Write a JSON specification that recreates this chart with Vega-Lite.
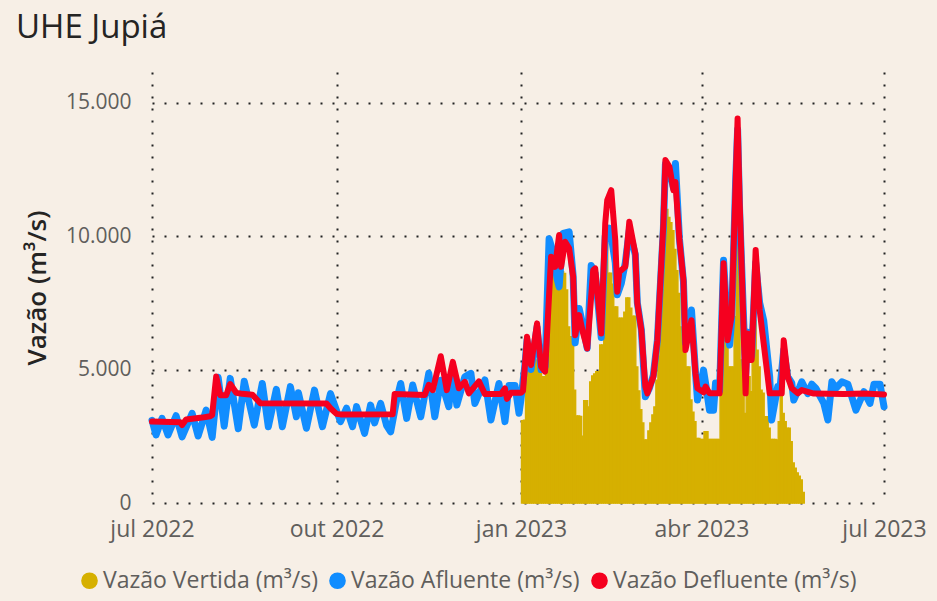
{
  "$schema": "https://vega.github.io/schema/vega-lite/v6.json",
  "width": 732,
  "height": 431,
  "autosize": {"type": "none"},
  "padding": {"left": 152, "top": 72, "right": 53, "bottom": 98},
  "background": "#f7efe6",
  "config": {"view": {"stroke": null}, "font": "Open Sans"},
  "title": {"text": "UHE Jupiá", "anchor": "start", "frame": "group", "dx": -136, "offset": 27, "fontSize": 33, "fontWeight": "normal", "font": "Open Sans", "color": "#252423"},
  "datasets": {
    "vertida": [
      {"d":"2023-01-01","v":3080},{"d":"2023-01-02","v":3100},{"d":"2023-01-03","v":4980},{"d":"2023-01-04","v":5240},{"d":"2023-01-05","v":5490},{"d":"2023-01-06","v":5620},{"d":"2023-01-07","v":5490},{"d":"2023-01-08","v":5360},{"d":"2023-01-09","v":5240},{"d":"2023-01-10","v":5110},
      {"d":"2023-01-11","v":4730},{"d":"2023-01-12","v":4730},{"d":"2023-01-13","v":6980},{"d":"2023-01-14","v":8350},{"d":"2023-01-15","v":8540},{"d":"2023-01-16","v":8600},{"d":"2023-01-17","v":8540},{"d":"2023-01-18","v":8600},{"d":"2023-01-19","v":8670},{"d":"2023-01-20","v":8730},
      {"d":"2023-01-21","v":8670},{"d":"2023-01-22","v":8600},{"d":"2023-01-23","v":7980},{"d":"2023-01-24","v":6600},{"d":"2023-01-25","v":6230},{"d":"2023-01-26","v":6230},{"d":"2023-01-27","v":4230},{"d":"2023-01-28","v":3260},{"d":"2023-01-29","v":3260},{"d":"2023-01-30","v":3240},
      {"d":"2023-01-31","v":2500},{"d":"2023-02-01","v":3830},{"d":"2023-02-02","v":3830},{"d":"2023-02-03","v":3600},{"d":"2023-02-04","v":4540},{"d":"2023-02-05","v":4760},{"d":"2023-02-06","v":4840},{"d":"2023-02-07","v":4920},{"d":"2023-02-08","v":4920},{"d":"2023-02-09","v":5920},
      {"d":"2023-02-10","v":5920},{"d":"2023-02-11","v":9730},{"d":"2023-02-12","v":9730},{"d":"2023-02-13","v":8610},{"d":"2023-02-14","v":8610},{"d":"2023-02-15","v":8200},{"d":"2023-02-16","v":7350},{"d":"2023-02-17","v":7350},{"d":"2023-02-18","v":6920},{"d":"2023-02-19","v":6920},
      {"d":"2023-02-20","v":6920},{"d":"2023-02-21","v":7150},{"d":"2023-02-22","v":7680},{"d":"2023-02-23","v":7680},{"d":"2023-02-24","v":7300},{"d":"2023-02-25","v":7000},{"d":"2023-02-26","v":7000},{"d":"2023-02-27","v":5100},{"d":"2023-02-28","v":4200},{"d":"2023-03-01","v":3500},
      {"d":"2023-03-02","v":3000},{"d":"2023-03-03","v":2360},{"d":"2023-03-04","v":2360},{"d":"2023-03-05","v":2700},{"d":"2023-03-06","v":3000},{"d":"2023-03-07","v":3300},{"d":"2023-03-08","v":3600},{"d":"2023-03-09","v":4600},{"d":"2023-03-10","v":5500},{"d":"2023-03-11","v":6800},
      {"d":"2023-03-12","v":8000},{"d":"2023-03-13","v":9500},{"d":"2023-03-14","v":11000},{"d":"2023-03-15","v":10700},{"d":"2023-03-16","v":10500},{"d":"2023-03-17","v":10200},{"d":"2023-03-18","v":9500},{"d":"2023-03-19","v":8700},{"d":"2023-03-20","v":7850},{"d":"2023-03-21","v":6600},
      {"d":"2023-03-22","v":6000},{"d":"2023-03-23","v":5600},{"d":"2023-03-24","v":5100},{"d":"2023-03-25","v":5100},{"d":"2023-03-26","v":3860},{"d":"2023-03-27","v":3400},{"d":"2023-03-28","v":3050},{"d":"2023-03-29","v":2420},{"d":"2023-03-30","v":2420},{"d":"2023-03-31","v":2380},
      {"d":"2023-04-01","v":2380},{"d":"2023-04-02","v":2670},{"d":"2023-04-03","v":2670},{"d":"2023-04-04","v":2380},{"d":"2023-04-05","v":2380},{"d":"2023-04-06","v":2380},{"d":"2023-04-07","v":2380},{"d":"2023-04-08","v":2380},{"d":"2023-04-09","v":2380},{"d":"2023-04-10","v":5100},
      {"d":"2023-04-11","v":6980},{"d":"2023-04-12","v":6980},{"d":"2023-04-13","v":6980},{"d":"2023-04-14","v":5100},{"d":"2023-04-15","v":5100},{"d":"2023-04-16","v":5100},{"d":"2023-04-17","v":6980},{"d":"2023-04-18","v":9850},{"d":"2023-04-19","v":8850},{"d":"2023-04-20","v":5360},
      {"d":"2023-04-21","v":5360},{"d":"2023-04-22","v":3360},{"d":"2023-04-23","v":5100},{"d":"2023-04-24","v":4730},{"d":"2023-04-25","v":4170},{"d":"2023-04-26","v":5730},{"d":"2023-04-27","v":6850},{"d":"2023-04-28","v":5730},{"d":"2023-04-29","v":5100},{"d":"2023-04-30","v":4230},
      {"d":"2023-05-01","v":4110},{"d":"2023-05-02","v":3230},{"d":"2023-05-03","v":3230},{"d":"2023-05-04","v":2800},{"d":"2023-05-05","v":2380},{"d":"2023-05-06","v":2380},{"d":"2023-05-07","v":2380},{"d":"2023-05-08","v":2360},{"d":"2023-05-09","v":3050},{"d":"2023-05-10","v":4420},
      {"d":"2023-05-11","v":3360},{"d":"2023-05-12","v":3050},{"d":"2023-05-13","v":2800},{"d":"2023-05-14","v":2800},{"d":"2023-05-15","v":2300},{"d":"2023-05-16","v":1500},{"d":"2023-05-17","v":1300},{"d":"2023-05-18","v":1130},{"d":"2023-05-19","v":1000},{"d":"2023-05-20","v":860},
      {"d":"2023-05-21","v":400}
    ],
    "afluente": [
      {"d":"2022-07-01","v":3100},{"d":"2022-07-03","v":2550},{"d":"2022-07-06","v":3170},{"d":"2022-07-09","v":2550},{"d":"2022-07-13","v":3270},{"d":"2022-07-16","v":2480},{"d":"2022-07-21","v":3360},{"d":"2022-07-24","v":2510},{"d":"2022-07-28","v":3480},{"d":"2022-07-31","v":2460},
      {"d":"2022-08-03","v":4710},{"d":"2022-08-06","v":2880},{"d":"2022-08-09","v":4670},{"d":"2022-08-13","v":2780},{"d":"2022-08-16","v":4560},{"d":"2022-08-21","v":2920},{"d":"2022-08-25","v":4480},{"d":"2022-08-28","v":2860},{"d":"2022-09-01","v":4260},{"d":"2022-09-04","v":2860},
      {"d":"2022-09-08","v":4360},{"d":"2022-09-11","v":3230},{"d":"2022-09-12","v":4130},{"d":"2022-09-16","v":2800},{"d":"2022-09-20","v":4230},{"d":"2022-09-24","v":2860},{"d":"2022-09-28","v":4100},{"d":"2022-10-03","v":3050},{"d":"2022-10-06","v":3550},{"d":"2022-10-09","v":2860},
      {"d":"2022-10-11","v":3610},{"d":"2022-10-15","v":2610},{"d":"2022-10-18","v":3670},{"d":"2022-10-20","v":3000},{"d":"2022-10-23","v":3730},{"d":"2022-10-26","v":2900},{"d":"2022-10-28","v":2670},{"d":"2022-10-31","v":3860},{"d":"2022-11-02","v":4480},{"d":"2022-11-05","v":3170},
      {"d":"2022-11-08","v":4420},{"d":"2022-11-12","v":3230},{"d":"2022-11-16","v":4860},{"d":"2022-11-19","v":3230},{"d":"2022-11-22","v":4600},{"d":"2022-11-26","v":3610},{"d":"2022-11-28","v":4860},{"d":"2022-11-30","v":3670},{"d":"2022-12-04","v":4730},{"d":"2022-12-07","v":4860},
      {"d":"2022-12-09","v":3730},{"d":"2022-12-14","v":4610},{"d":"2022-12-17","v":3110},{"d":"2022-12-21","v":4480},{"d":"2022-12-24","v":3050},{"d":"2022-12-26","v":4400},{"d":"2022-12-29","v":4400},{"d":"2022-12-31","v":3360},{"d":"2023-01-01","v":3900},{"d":"2023-01-03","v":5200},
      {"d":"2023-01-04","v":6100},{"d":"2023-01-06","v":5000},{"d":"2023-01-09","v":6600},{"d":"2023-01-11","v":5000},{"d":"2023-01-13","v":5100},{"d":"2023-01-15","v":9900},{"d":"2023-01-17","v":9400},{"d":"2023-01-19","v":8400},{"d":"2023-01-20","v":8100},{"d":"2023-01-22","v":10100},
      {"d":"2023-01-25","v":10160},{"d":"2023-01-27","v":8500},{"d":"2023-01-28","v":6000},{"d":"2023-01-30","v":7290},{"d":"2023-02-01","v":6600},{"d":"2023-02-03","v":5800},{"d":"2023-02-05","v":8900},{"d":"2023-02-07","v":8600},{"d":"2023-02-10","v":6200},{"d":"2023-02-12","v":10000},
      {"d":"2023-02-14","v":10300},{"d":"2023-02-15","v":10000},{"d":"2023-02-17","v":9000},{"d":"2023-02-18","v":7800},{"d":"2023-02-20","v":8230},{"d":"2023-02-22","v":9000},{"d":"2023-02-24","v":10220},{"d":"2023-02-27","v":9300},{"d":"2023-02-28","v":7500},{"d":"2023-03-02","v":6500},
      {"d":"2023-03-04","v":3980},{"d":"2023-03-06","v":4300},{"d":"2023-03-08","v":4800},{"d":"2023-03-10","v":6100},{"d":"2023-03-13","v":10300},{"d":"2023-03-14","v":12700},{"d":"2023-03-16","v":12500},{"d":"2023-03-18","v":11800},{"d":"2023-03-19","v":12720},{"d":"2023-03-21","v":9900},
      {"d":"2023-03-23","v":8300},{"d":"2023-03-24","v":6000},{"d":"2023-03-27","v":7230},{"d":"2023-03-29","v":4900},{"d":"2023-03-30","v":3860},{"d":"2023-04-02","v":4980},{"d":"2023-04-03","v":4500},{"d":"2023-04-05","v":3480},{"d":"2023-04-07","v":3480},{"d":"2023-04-08","v":4500},
      {"d":"2023-04-10","v":4200},{"d":"2023-04-12","v":9100},{"d":"2023-04-14","v":6500},{"d":"2023-04-15","v":5920},{"d":"2023-04-16","v":6800},{"d":"2023-04-18","v":12000},{"d":"2023-04-19","v":14000},{"d":"2023-04-20","v":11000},{"d":"2023-04-23","v":4800},{"d":"2023-04-24","v":6400},
      {"d":"2023-04-26","v":5500},{"d":"2023-04-28","v":9000},{"d":"2023-04-30","v":7500},{"d":"2023-05-02","v":6850},{"d":"2023-05-05","v":4730},{"d":"2023-05-06","v":3110},{"d":"2023-05-09","v":4360},{"d":"2023-05-10","v":4200},{"d":"2023-05-12","v":5730},{"d":"2023-05-14","v":4730},
      {"d":"2023-05-16","v":4500},{"d":"2023-05-17","v":3860},{"d":"2023-05-20","v":4360},{"d":"2023-05-21","v":4540},{"d":"2023-05-24","v":4100},{"d":"2023-05-26","v":4450},{"d":"2023-05-28","v":4300},{"d":"2023-06-01","v":3730},{"d":"2023-06-03","v":3110},{"d":"2023-06-05","v":4540},
      {"d":"2023-06-07","v":4300},{"d":"2023-06-10","v":4540},{"d":"2023-06-13","v":4450},{"d":"2023-06-17","v":3480},{"d":"2023-06-21","v":4170},{"d":"2023-06-24","v":3730},{"d":"2023-06-26","v":4450},{"d":"2023-06-29","v":4450},{"d":"2023-07-01","v":3610}
    ],
    "defluente": [
      {"d":"2022-07-01","v":3050},{"d":"2022-07-15","v":3030},{"d":"2022-07-16","v":2920},{"d":"2022-07-18","v":3130},{"d":"2022-07-26","v":3200},{"d":"2022-07-30","v":3250},{"d":"2022-07-31","v":3300},{"d":"2022-08-02","v":4740},{"d":"2022-08-04","v":4040},{"d":"2022-08-07","v":4040},
      {"d":"2022-08-09","v":4460},{"d":"2022-08-12","v":4130},{"d":"2022-08-15","v":4090},{"d":"2022-08-20","v":4060},{"d":"2022-08-24","v":3740},{"d":"2022-09-26","v":3730},{"d":"2022-09-28","v":3550},{"d":"2022-10-01","v":3340},{"d":"2022-10-03","v":3320},{"d":"2022-10-29","v":3330},
      {"d":"2022-10-30","v":4080},{"d":"2022-11-14","v":4050},{"d":"2022-11-16","v":4430},{"d":"2022-11-18","v":4230},{"d":"2022-11-22","v":5500},{"d":"2022-11-25","v":4230},{"d":"2022-11-28","v":5290},{"d":"2022-12-01","v":4300},{"d":"2022-12-04","v":4540},{"d":"2022-12-06","v":4110},
      {"d":"2022-12-11","v":4560},{"d":"2022-12-14","v":4080},{"d":"2022-12-22","v":4080},{"d":"2022-12-24","v":4290},{"d":"2022-12-25","v":3900},{"d":"2022-12-27","v":4130},{"d":"2023-01-01","v":4130},{"d":"2023-01-02","v":4200},{"d":"2023-01-04","v":6230},{"d":"2023-01-06","v":5170},
      {"d":"2023-01-09","v":6730},{"d":"2023-01-11","v":5110},{"d":"2023-01-13","v":4920},{"d":"2023-01-16","v":9230},{"d":"2023-01-18","v":8850},{"d":"2023-01-20","v":10040},{"d":"2023-01-21","v":8850},{"d":"2023-01-23","v":9790},{"d":"2023-01-25","v":9540},{"d":"2023-01-27","v":8480},
      {"d":"2023-01-28","v":6290},{"d":"2023-01-30","v":7040},{"d":"2023-02-01","v":6350},{"d":"2023-02-03","v":5790},{"d":"2023-02-06","v":8730},{"d":"2023-02-07","v":8790},{"d":"2023-02-10","v":6350},{"d":"2023-02-12","v":10470},{"d":"2023-02-13","v":11350},{"d":"2023-02-15","v":11720},
      {"d":"2023-02-17","v":9850},{"d":"2023-02-18","v":7920},{"d":"2023-02-19","v":8660},{"d":"2023-02-22","v":8850},{"d":"2023-02-24","v":10540},{"d":"2023-02-27","v":9350},{"d":"2023-02-28","v":7480},{"d":"2023-03-02","v":6480},{"d":"2023-03-04","v":4360},{"d":"2023-03-05","v":4110},
      {"d":"2023-03-08","v":4730},{"d":"2023-03-10","v":6100},{"d":"2023-03-13","v":10470},{"d":"2023-03-14","v":12850},{"d":"2023-03-16","v":12600},{"d":"2023-03-18","v":11720},{"d":"2023-03-19","v":12030},{"d":"2023-03-21","v":9850},{"d":"2023-03-23","v":8350},{"d":"2023-03-24","v":5730},
      {"d":"2023-03-27","v":6850},{"d":"2023-03-29","v":4860},{"d":"2023-03-30","v":4300},{"d":"2023-04-02","v":4150},{"d":"2023-04-03","v":4360},{"d":"2023-04-05","v":4110},{"d":"2023-04-10","v":4110},{"d":"2023-04-12","v":8980},{"d":"2023-04-14","v":6100},{"d":"2023-04-16","v":7000},
      {"d":"2023-04-18","v":11970},{"d":"2023-04-19","v":14410},{"d":"2023-04-20","v":11350},{"d":"2023-04-23","v":4110},{"d":"2023-04-24","v":6350},{"d":"2023-04-26","v":5360},{"d":"2023-04-28","v":9480},{"d":"2023-04-30","v":7230},{"d":"2023-05-02","v":5980},{"d":"2023-05-05","v":4110},
      {"d":"2023-05-11","v":4110},{"d":"2023-05-12","v":6100},{"d":"2023-05-14","v":4730},{"d":"2023-05-16","v":4300},{"d":"2023-05-19","v":4110},{"d":"2023-05-21","v":4230},{"d":"2023-05-27","v":4100},{"d":"2023-06-11","v":4080},{"d":"2023-06-21","v":4100},{"d":"2023-07-01","v":4070}
    ]
  },
  "layer": [
    {
      "data": {"name": "vertida"},
      "mark": {"type": "bar", "color": "#d6b000", "stroke": "#d6b000", "strokeWidth": 1.4, "strokeJoin": "miter", "binSpacing": 0},
      "encoding": {
        "x": {"field": "d", "type": "temporal", "timeUnit": "utcyearmonthdate"},
        "y": {"field": "v", "type": "quantitative"},
        "color": {"datum": "Vertida", "type": "nominal"}
      }
    },
    {
      "data": {"name": "afluente"},
      "mark": {"type": "line", "strokeWidth": 7, "strokeCap": "round", "strokeJoin": "round"},
      "encoding": {
        "x": {"field": "d", "type": "temporal"},
        "y": {"field": "v", "type": "quantitative"},
        "color": {"datum": "Afluente", "type": "nominal"}
      }
    },
    {
      "data": {"name": "defluente"},
      "mark": {"type": "line", "strokeWidth": 6, "strokeCap": "round", "strokeJoin": "round"},
      "encoding": {
        "x": {"field": "d", "type": "temporal"},
        "y": {"field": "v", "type": "quantitative"},
        "color": {"datum": "Defluente", "type": "nominal"}
      }
    }
  ],
  "encoding": {
    "x": {
      "field": "d", "type": "temporal",
      "scale": {"type": "utc", "domain": [{"year": 2022, "month": 7, "date": 1, "utc": true}, {"year": 2023, "month": 7, "date": 1, "utc": true}]},
      "axis": {
        "title": null,
        "values": [{"year": 2022, "month": 7, "date": 1, "utc": true}, {"year": 2022, "month": 10, "date": 1, "utc": true}, {"year": 2023, "month": 1, "date": 1, "utc": true}, {"year": 2023, "month": 4, "date": 1, "utc": true}, {"year": 2023, "month": 7, "date": 1, "utc": true}],
        "labelExpr": "['jan','fev','mar','abr','mai','jun','jul','ago','set','out','nov','dez'][utcmonth(datum.value)] + ' ' + utcyear(datum.value)",
        "labelFlush": false, "labelOverlap": false,
        "labelFontSize": 23, "labelColor": "#605e5c", "labelPadding": 15,
        "domain": false, "ticks": false,
        "grid": true, "gridDash": [2, 10], "gridWidth": 2, "gridColor": "#222222"
      }
    },
    "y": {
      "field": "v", "type": "quantitative",
      "scale": {"domain": [0, 16150], "nice": false, "zero": true},
      "axis": {
        "title": "Vazão (m³/s)",
        "values": [0, 5000, 10000, 15000],
        "labelExpr": "replace(format(datum.value, ','), ',', '.')",
        "labelFontSize": 21, "labelColor": "#605e5c", "labelPadding": 21,
        "titleFontSize": 26, "titleFontWeight": 600, "titleColor": "#252423", "titlePadding": 15,
        "domain": false, "ticks": false,
        "grid": true, "gridDash": [2, 10], "gridWidth": 2, "gridColor": "#222222"
      }
    },
    "color": {
      "type": "nominal",
      "scale": {"domain": ["Vertida", "Afluente", "Defluente"], "range": ["#d6b000", "#118dff", "#f5001f"]},
      "legend": {
        "orient": "none", "legendX": -74, "legendY": 497, "direction": "horizontal", "title": null,
        "symbolType": "circle", "symbolSize": 230, "labelFontSize": 23, "labelColor": "#605e5c", "labelLimit": 0,
        "labelOffset": 2, "columnPadding": 8,
        "labelExpr": "'Vazão ' + datum.label + ' (m³/s)'",
        "encode": {"symbols": {"update": {"fill": {"scale": "color", "field": "value"}, "stroke": {"value": "transparent"}, "opacity": {"value": 1}}}}
      }
    }
  }
}
